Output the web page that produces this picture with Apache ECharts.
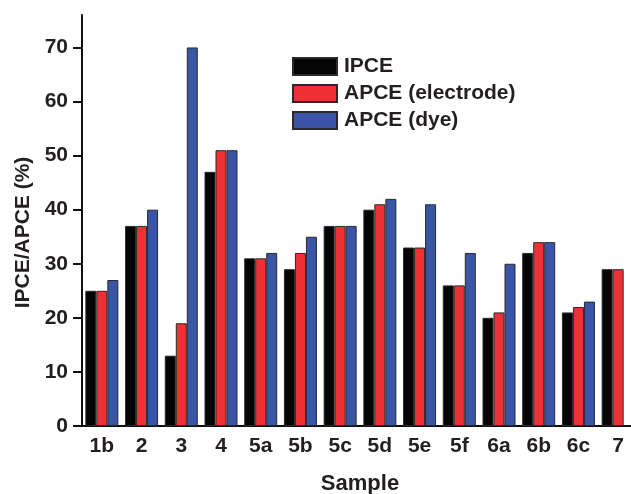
<!DOCTYPE html>
<html>
<head>
<meta charset="utf-8">
<script src="https://cdn.jsdelivr.net/npm/echarts@6/dist/echarts.min.js"></script>
<style>html,body{margin:0;padding:0;background:#fff;}#c{width:631px;height:494px;}</style>
</head>
<body>
<div id="c"></div>
<script>
var categories = ['1b','2','3','4','5a','5b','5c','5d','5e','5f','6a','6b','6c','7'];
var ipce = [25,37,13,47,31,29,37,40,33,26,20,32,21,29];
var apceElectrode = [25,37,19,51,31,32,37,41,33,26,21,34,22,29];
var apceDye = [27,40,70,51,32,35,37,42,41,32,30,34,23,null];
var yTicks = [0,10,20,30,40,50,60,70];

var FONT = 'Liberation Sans, Arial, Helvetica, sans-serif';
var TXT = '#231f20';
var chart = echarts.init(document.getElementById('c'), null, {renderer:'canvas'});
function barStyle(c){ return {color:c, borderColor:'#2a2a2a', borderWidth:1}; }
chart.setOption({
  animation:false,
  backgroundColor:'#fff',
  grid:{left:82, right:-7, top:15, bottom:68, containLabel:false, outerBoundsMode:'none'},
  legend:{
    orient:'vertical', left:292, top:56, padding:0, itemWidth:44, itemHeight:17, itemGap:6,
    icon:'rect',
    textStyle:{fontFamily:FONT, fontSize:21, fontWeight:'bold', color:TXT, padding:[0,0,0,2]},
    data:['IPCE','APCE (electrode)','APCE (dye)']
  },
  xAxis:{
    type:'category', data:categories,
    axisLine:{lineStyle:{color:'#111', width:2}},
    axisTick:{show:false},
    axisLabel:{fontFamily:FONT, fontSize:21, fontWeight:'bold', color:TXT, margin:10, interval:0},
    name:'Sample', nameLocation:'middle', nameGap:47,
    nameTextStyle:{fontFamily:FONT, fontSize:22, fontWeight:'bold', color:TXT}
  },
  yAxis:{
    type:'value', min:0, max:76, interval:10,
    axisLine:{show:true, lineStyle:{color:'#111', width:2}},
    axisTick:{show:true, length:9, lineStyle:{color:'#111', width:2}, customValues:yTicks},
    axisLabel:{fontFamily:FONT, fontSize:21, fontWeight:'bold', color:TXT, margin:14, customValues:yTicks},
    splitLine:{show:false},
    name:'IPCE/APCE (%)', nameLocation:'middle', nameGap:48,
    nameTextStyle:{fontFamily:FONT, fontSize:21, fontWeight:'bold', color:TXT, padding:[0,24,0,0]}
  },
  series:[
    {name:'IPCE', type:'bar', data:ipce, barWidth:11, barGap:'0%', itemStyle:barStyle('#050505')},
    {name:'APCE (electrode)', type:'bar', data:apceElectrode, barWidth:11, barGap:'0%', itemStyle:barStyle('#ee3134')},
    {name:'APCE (dye)', type:'bar', data:apceDye, barWidth:11, barGap:'0%', itemStyle:barStyle('#3a55a6')}
  ]
});
</script>
</body>
</html>
